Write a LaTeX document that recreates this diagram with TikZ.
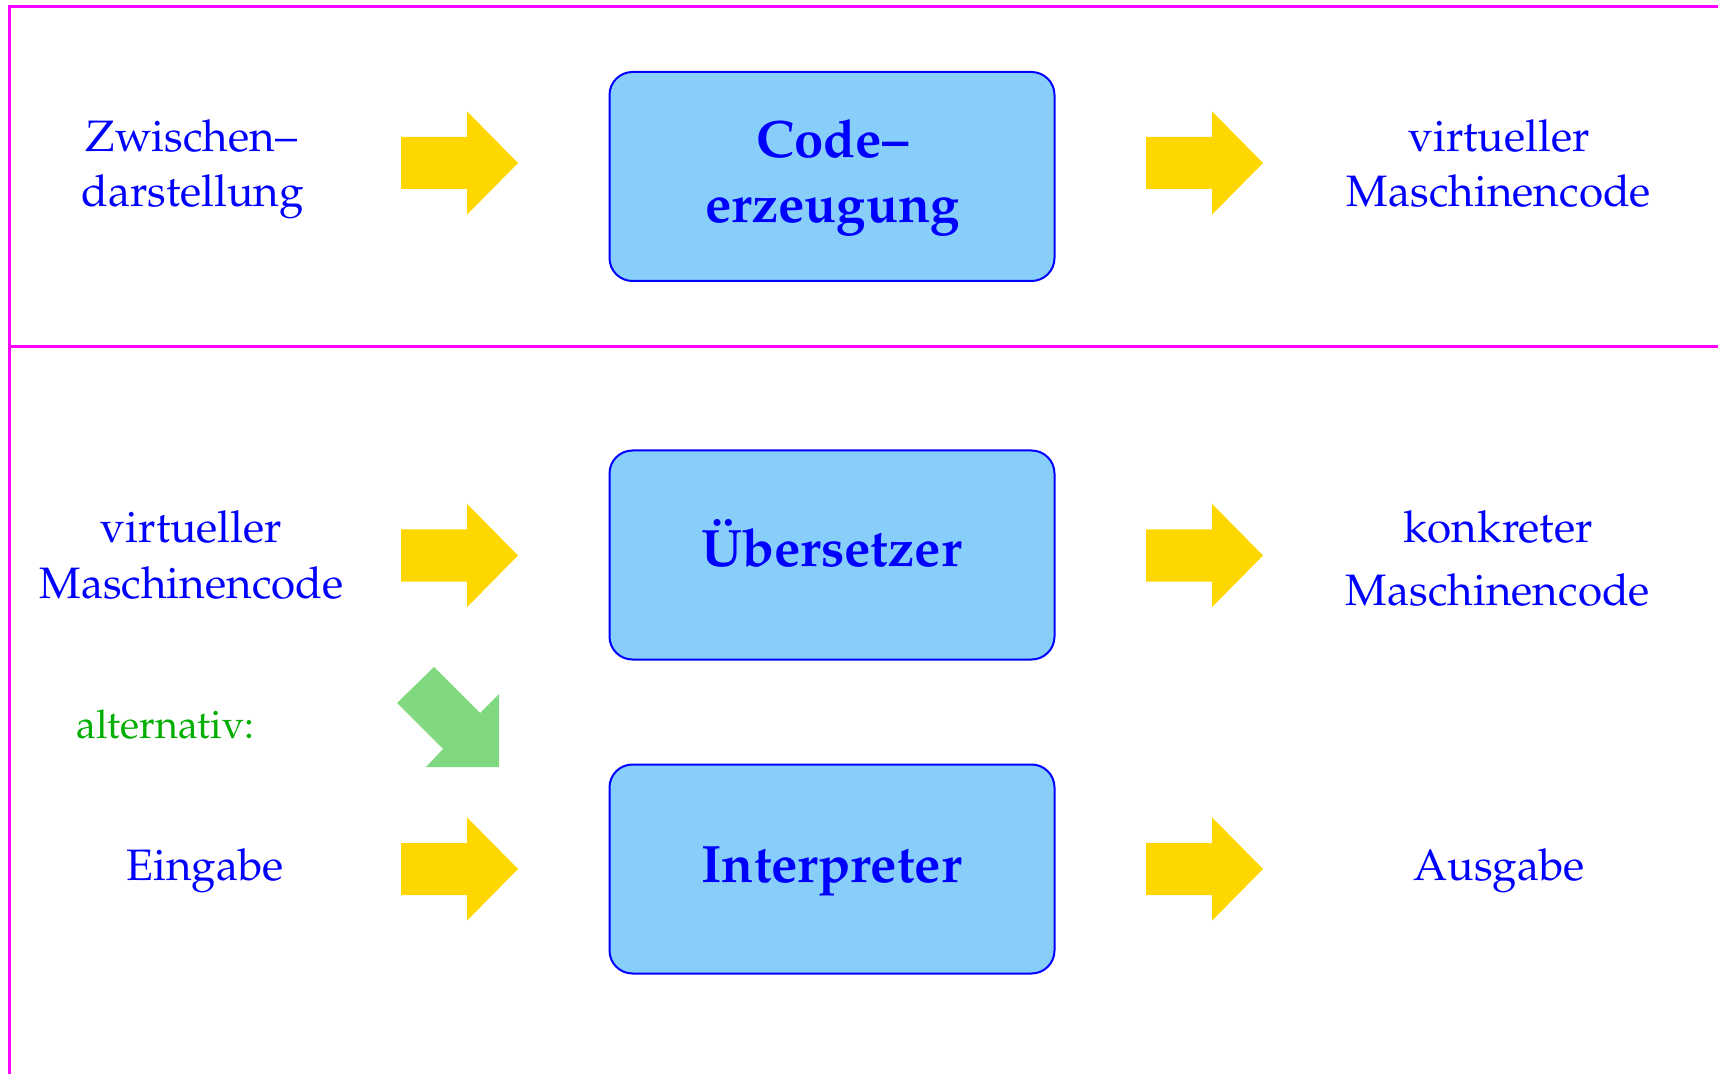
\documentclass[tikz,border=0pt]{standalone}
\usepackage[T1]{fontenc}
\usepackage{mathpazo}
\definecolor{frame}{RGB}{255,0,255}
\definecolor{txtblue}{RGB}{0,0,255}
\definecolor{boxfill}{RGB}{135,206,250}
\definecolor{arrgold}{RGB}{255,215,0}
\definecolor{arrgreen}{RGB}{128,216,128}
\definecolor{txtgreen}{RGB}{0,175,0}
\tikzset{
  lbl/.style={anchor=base,inner sep=0pt,text=txtblue,font=\fontsize{22}{27.5}\selectfont},
  boxlbl/.style={anchor=base,inner sep=0pt,text=txtblue,font=\fontsize{26.3}{32}\selectfont\bfseries},
  stagebox/.style={draw=txtblue,line width=1pt,fill=boxfill,rounded corners=11.5pt,
    minimum width=222.5pt,minimum height=104.5pt,inner sep=0pt},
  yarr/.pic={\fill[arrgold] (0,-26)--(66,-26)--(66,-51.7)--(117,0)--(66,51.7)--(66,26)--(0,26)--cycle;},
  frameline/.style={draw=frame,line width=1.2pt}
}
\begin{document}
\begin{tikzpicture}[x=0.5pt,y=-0.5pt]
\useasboundingbox (0,0) rectangle (1718,1074);
% frame
\coordinate (ftr) at (1718,6.7);
\coordinate (ftl) at (9.3,6.7);
\coordinate (fbl) at (9.3,1074);
\coordinate (fml) at (9.3,346.7);
\coordinate (fmr) at (1718,346.7);
\draw[frameline] (ftr) -- (ftl) -- (fbl);
\draw[frameline] (fml) -- (fmr);
% boxes
\node[stagebox] (code) at (832,176.5) {};
\node[stagebox] (uebers) at (832,555) {};
\node[stagebox] (interp) at (832,869) {};
% box labels
\node[boxlbl] (code1) at (832.5,158) {Code--};
\node[boxlbl] (code2) at (832.5,223) {erzeugung};
\node[boxlbl] (uebl) at (831.5,567) {\"Ubersetzer};
\node[boxlbl] (intl) at (831.5,882) {Interpreter};
% arrows
\pic (a1) at (401,163) {yarr};
\pic (a2) at (1146,163) {yarr};
\pic (a3) at (401,555.5) {yarr};
\pic (a4) at (1146,555.5) {yarr};
\pic (a5) at (401,869) {yarr};
\pic (a6) at (1146,869) {yarr};
\fill[arrgreen] (434,667) -- (397,703) -- (443,749) -- (426,767) -- (499,767) -- (499,694) -- (480,713) -- cycle;
% texts
\node[lbl] (zw1) at (191.5,152) {Zwischen--};
\node[lbl] (zw2) at (192.5,207) {darstellung};
\node[lbl] (tr1) at (1499,152) {virtueller};
\node[lbl] (tr2) at (1499,207) {Maschinencode};
\node[lbl] (ml1) at (191.5,543) {virtueller};
\node[lbl] (ml2) at (191.5,598) {Maschinencode};
\node[lbl] (mr1) at (1498,543) {konkreter};
\node[lbl] (mr2) at (1498,605) {Maschinencode};
\node[lbl,text=txtgreen,font=\fontsize{19.8}{24}\selectfont] (alt) at (165.5,738) {alternativ:};
\node[lbl] (ein) at (205,880) {Eingabe};
\node[lbl] (aus) at (1499,880) {Ausgabe};
\end{tikzpicture}
\end{document}
